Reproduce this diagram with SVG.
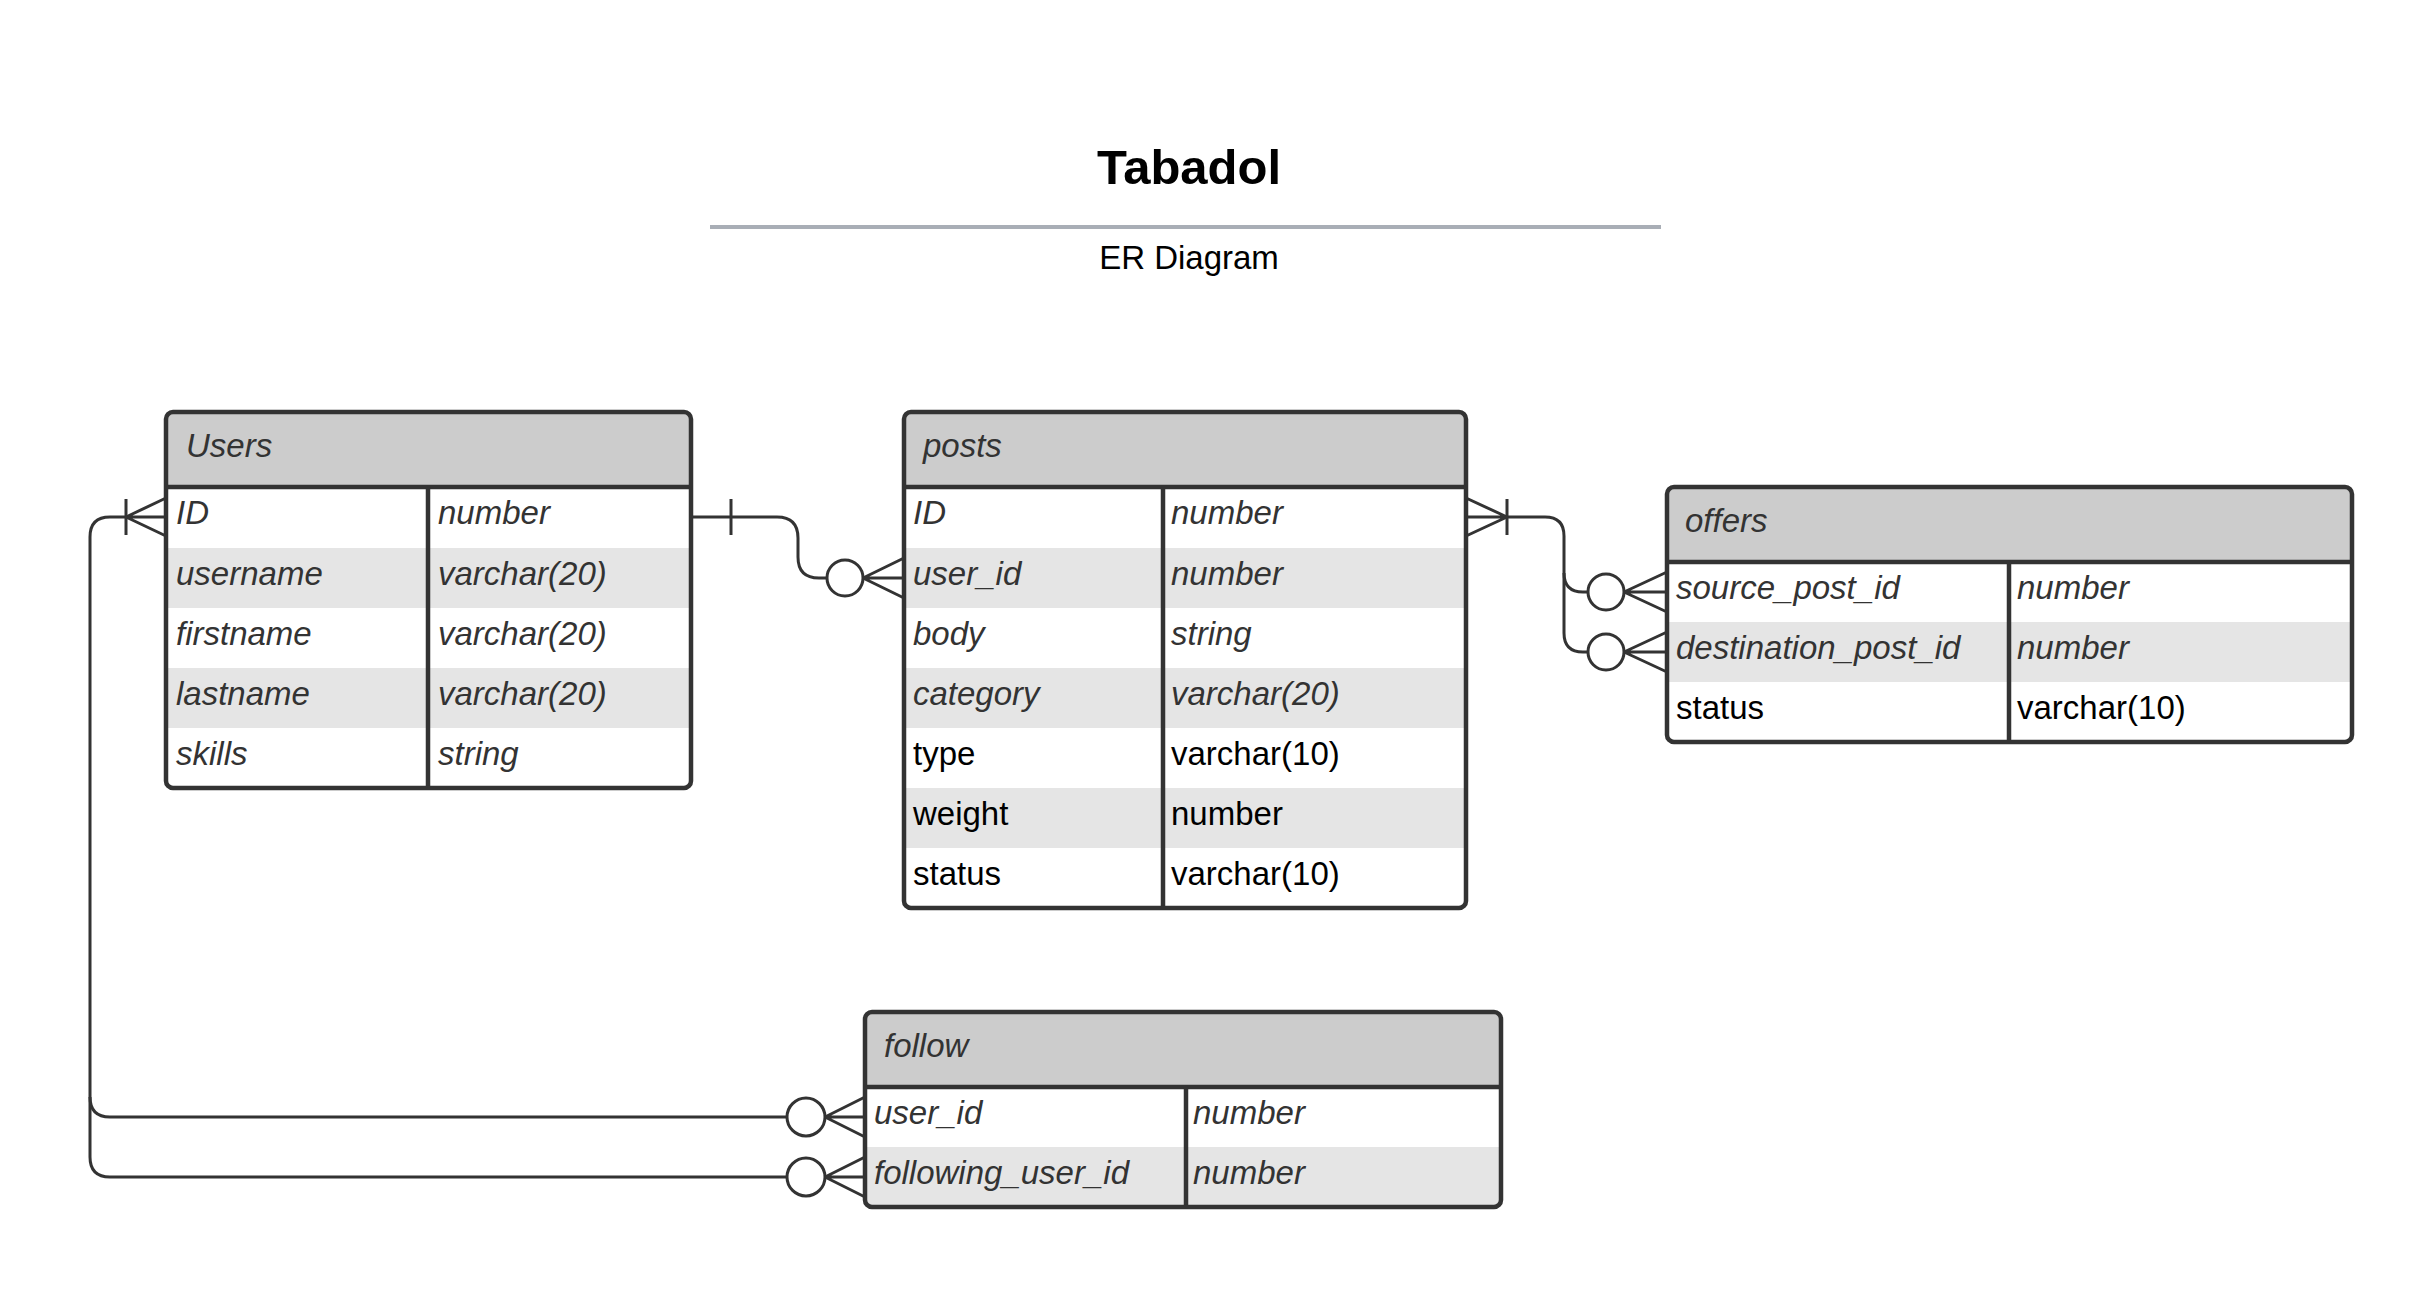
<svg xmlns="http://www.w3.org/2000/svg" width="2430" height="1299" viewBox="0 0 2430 1299">
<style>
.bg{fill:#ffffff}
.frame{fill:none;stroke:#333333;stroke-width:4.5}
.hdr{fill:#cccccc}
.alt{fill:#e5e5e5}
.wht{fill:#ffffff}
.sep{stroke:#333333;stroke-width:4.5}
.t{font-family:"Liberation Sans",Arial,sans-serif;font-size:33px}
.i{font-style:italic;fill:#333333}
.r{fill:#000000}
.conn path,.conn line{fill:none;stroke:#333333;stroke-width:3}
.conn circle{fill:#ffffff;stroke:#333333;stroke-width:3}
</style>
<rect class="bg" x="0" y="0" width="2430" height="1299"/>

<g id="title">
<text x="1189" y="184" text-anchor="middle" font-family="'Liberation Sans',Arial,sans-serif" font-size="49" font-weight="bold" fill="#000">Tabadol</text>
<line x1="710" y1="227" x2="1661" y2="227" stroke="#a9aeb6" stroke-width="4"/>
<text x="1189" y="269" text-anchor="middle" font-family="'Liberation Sans',Arial,sans-serif" font-size="33" fill="#000">ER Diagram</text>
</g>

<g id="users">
<rect class="hdr" x="166" y="412" width="525" height="376" rx="7"/>
<rect class="wht" x="168" y="487" width="521" height="61"/>
<rect class="alt" x="168" y="548" width="521" height="60"/>
<rect class="wht" x="168" y="608" width="521" height="60"/>
<rect class="alt" x="168" y="668" width="521" height="60"/>
<rect class="wht" x="168" y="728" width="521" height="58"/>
<line class="sep" x1="166" y1="487" x2="691" y2="487"/>
<line class="sep" x1="428" y1="487" x2="428" y2="788"/>
<rect class="frame" x="166" y="412" width="525" height="376" rx="7"/>
<text class="t i" x="186" y="457">Users</text>
<text class="t i" x="176" y="524">ID</text><text class="t i" x="438" y="524">number</text>
<text class="t i" x="176" y="585">username</text><text class="t i" x="438" y="585">varchar(20)</text>
<text class="t i" x="176" y="645">firstname</text><text class="t i" x="438" y="645">varchar(20)</text>
<text class="t i" x="176" y="705">lastname</text><text class="t i" x="438" y="705">varchar(20)</text>
<text class="t i" x="176" y="765">skills</text><text class="t i" x="438" y="765">string</text>
</g>

<g id="posts">
<rect class="hdr" x="904" y="412" width="562" height="496" rx="7"/>
<rect class="wht" x="906" y="487" width="558" height="61"/>
<rect class="alt" x="906" y="548" width="558" height="60"/>
<rect class="wht" x="906" y="608" width="558" height="60"/>
<rect class="alt" x="906" y="668" width="558" height="60"/>
<rect class="wht" x="906" y="728" width="558" height="60"/>
<rect class="alt" x="906" y="788" width="558" height="60"/>
<rect class="wht" x="906" y="848" width="558" height="58"/>
<line class="sep" x1="904" y1="487" x2="1466" y2="487"/>
<line class="sep" x1="1163" y1="487" x2="1163" y2="908"/>
<rect class="frame" x="904" y="412" width="562" height="496" rx="7"/>
<text class="t i" x="923" y="457">posts</text>
<text class="t i" x="913" y="524">ID</text><text class="t i" x="1171" y="524">number</text>
<text class="t i" x="913" y="585">user_id</text><text class="t i" x="1171" y="585">number</text>
<text class="t i" x="913" y="645">body</text><text class="t i" x="1171" y="645">string</text>
<text class="t i" x="913" y="705">category</text><text class="t i" x="1171" y="705">varchar(20)</text>
<text class="t r" x="913" y="765">type</text><text class="t r" x="1171" y="765">varchar(10)</text>
<text class="t r" x="913" y="825">weight</text><text class="t r" x="1171" y="825">number</text>
<text class="t r" x="913" y="885">status</text><text class="t r" x="1171" y="885">varchar(10)</text>
</g>

<g id="offers">
<rect class="hdr" x="1667" y="487" width="685" height="255" rx="7"/>
<rect class="wht" x="1669" y="562" width="681" height="60"/>
<rect class="alt" x="1669" y="622" width="681" height="60"/>
<rect class="wht" x="1669" y="682" width="681" height="58"/>
<line class="sep" x1="1667" y1="562" x2="2352" y2="562"/>
<line class="sep" x1="2009" y1="562" x2="2009" y2="742"/>
<rect class="frame" x="1667" y="487" width="685" height="255" rx="7"/>
<text class="t i" x="1685" y="532">offers</text>
<text class="t i" x="1676" y="599">source_post_id</text><text class="t i" x="2017" y="599">number</text>
<text class="t i" x="1676" y="659">destination_post_id</text><text class="t i" x="2017" y="659">number</text>
<text class="t r" x="1676" y="719">status</text><text class="t r" x="2017" y="719">varchar(10)</text>
</g>

<g id="follow">
<rect class="hdr" x="865" y="1012" width="636" height="195" rx="7"/>
<rect class="wht" x="867" y="1087" width="632" height="60"/>
<rect class="alt" x="867" y="1147" width="632" height="58"/>
<line class="sep" x1="865" y1="1087" x2="1501" y2="1087"/>
<line class="sep" x1="1186" y1="1087" x2="1186" y2="1207"/>
<rect class="frame" x="865" y="1012" width="636" height="195" rx="7"/>
<text class="t i" x="884" y="1057">follow</text>
<text class="t i" x="874" y="1124">user_id</text><text class="t i" x="1193" y="1124">number</text>
<text class="t i" x="874" y="1184">following_user_id</text><text class="t i" x="1193" y="1184">number</text>
</g>

<g id="connectors" class="conn">
<!-- Users.ID -> posts.user_id -->
<path d="M691,517 H777 Q798,517 798,538 V557 Q798,578 819,578 H827"/>
<line x1="731" y1="499" x2="731" y2="535"/>
<circle cx="845" cy="578" r="18"/>
<path d="M863,578 H904 M863,578 L904,558 M863,578 L904,598"/>

<!-- Users.ID -> follow.user_id -->
<path d="M126,517 H110 Q90,517 90,537 V1097 Q90,1117 110,1117 H787"/>
<circle cx="806" cy="1117" r="19"/>
<path d="M825,1117 H865 M825,1117 L865,1097 M825,1117 L865,1137"/>

<!-- Users.ID -> follow.following_user_id -->
<path d="M90,1097 V1157 Q90,1177 110,1177 H787"/>
<circle cx="806" cy="1177" r="19"/>
<path d="M825,1177 H865 M825,1177 L865,1157 M825,1177 L865,1197"/>

<!-- Users side one-or-many -->
<path d="M126,517 H166 M126,517 L166,498 M126,517 L166,536"/>
<line x1="126" y1="499" x2="126" y2="535"/>

<!-- posts.ID -> offers.source_post_id -->
<path d="M1507,517 H1545 Q1564,517 1564,536 V573 Q1564,592 1583,592 H1588"/>
<circle cx="1606" cy="592" r="18"/>
<path d="M1624,592 H1667 M1624,592 L1667,572 M1624,592 L1667,612"/>

<!-- posts.ID -> offers.destination_post_id -->
<path d="M1564,573 V633 Q1564,652 1583,652 H1588"/>
<circle cx="1606" cy="652" r="18"/>
<path d="M1624,652 H1667 M1624,652 L1667,632 M1624,652 L1667,672"/>

<!-- posts side one-or-many -->
<path d="M1466,517 H1507 M1507,517 L1466,498 M1507,517 L1466,536"/>
<line x1="1507" y1="499" x2="1507" y2="535"/>
</g>
</svg>
